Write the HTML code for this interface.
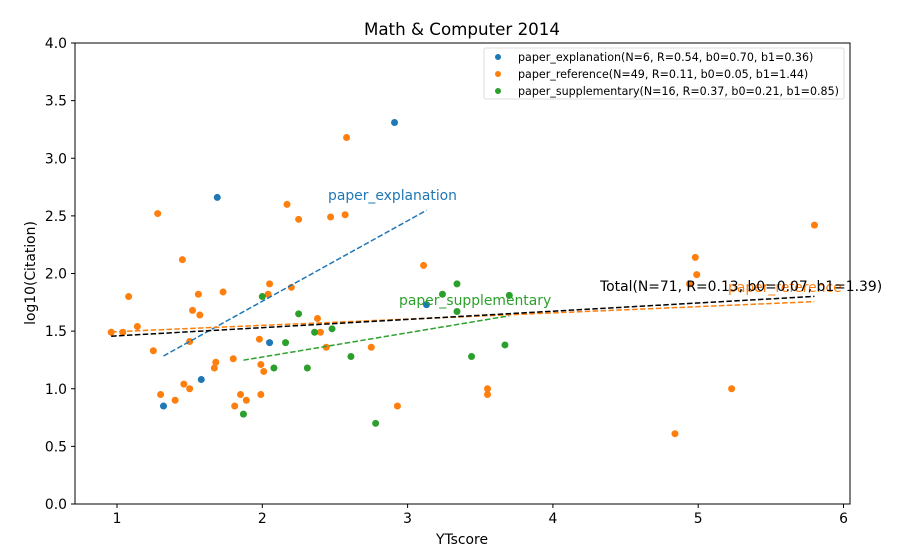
<!DOCTYPE html>
<html><head><meta charset="utf-8"><style>
body{margin:0;background:#fff;}
svg{display:block;font-family:"DejaVu Sans","Liberation Sans",sans-serif;}
</style></head><body>
<svg id="chart" width="900" height="552" xmlns="http://www.w3.org/2000/svg">
<rect width="900" height="552" fill="#fff"/>
<text x="462" y="35" text-anchor="middle" font-size="16.7">Math &amp; Computer 2014</text>
<g id="axes"></g>
<g id="marks"></g>
<rect x="75" y="43" width="775" height="461" fill="none" stroke="#000" stroke-width="1"/>
<text x="462" y="544" text-anchor="middle" font-size="13.9">YTscore</text>
<text transform="translate(35,273) rotate(-90)" text-anchor="middle" font-size="13.9">log10(Citation)</text>
<g>
<rect x="484" y="48" width="360" height="51" rx="2" fill="#fff" stroke="#ddd"/>
<circle cx="498" cy="57" r="3" fill="#1f77b4"/>
<text x="518" y="61" font-size="11.1">paper_explanation(N=6, R=0.54, b0=0.70, b1=0.36)</text>
<circle cx="498" cy="74" r="3" fill="#ff7f0e"/>
<text x="518" y="78" font-size="11.1">paper_reference(N=49, R=0.11, b0=0.05, b1=1.44)</text>
<circle cx="498" cy="91" r="3" fill="#2ca02c"/>
<text x="518" y="95" font-size="11.1">paper_supplementary(N=16, R=0.37, b0=0.21, b1=0.85)</text>
</g>
</svg>
<script>
const xTicks=[1,2,3,4,5,6];
const yTicks=[0,0.5,1,1.5,2,2.5,3,3.5,4];
const explX=[1.32,1.69,1.58,2.05,2.91,3.13];
const explY=[0.85,2.66,1.08,1.40,3.31,1.73];
const refX=[0.96,1.04,1.14,1.08,1.28,1.25,1.30,1.40,1.45,1.52,1.56,1.57,1.50,1.46,1.50,1.68,1.67,1.73,1.80,1.85,1.89,1.81,1.99,1.99,2.01,1.98,2.05,2.04,2.17,2.25,2.20,2.38,2.40,2.44,2.47,2.57,2.75,2.58,3.11,2.93,3.55,3.55,4.84,4.98,4.99,5.23,5.80,4.94];
const refY=[1.49,1.49,1.54,1.80,2.52,1.33,0.95,0.90,2.12,1.68,1.82,1.64,1.41,1.04,1.00,1.23,1.18,1.84,1.26,0.95,0.90,0.85,0.95,1.21,1.15,1.43,1.91,1.82,2.60,2.47,1.88,1.61,1.49,1.36,2.49,2.51,1.36,3.18,2.07,0.85,1.00,0.95,0.61,2.14,1.99,1.00,2.42,1.91];
const supX=[1.87,2.00,2.08,2.16,2.25,2.31,2.36,2.48,2.61,2.78,3.24,3.34,3.34,3.44,3.67,3.70];
const supY=[0.78,1.80,1.18,1.40,1.65,1.18,1.49,1.52,1.28,0.70,1.82,1.91,1.67,1.28,1.38,1.81];
const X=v=>117+(v-1)*145.3;
const Y=v=>504-v*115.25;
const NS="http://www.w3.org/2000/svg";
function mk(tag,attrs,parent){const e=document.createElementNS(NS,tag);for(const k in attrs)e.setAttribute(k,attrs[k]);parent.appendChild(e);return e;}
const axes=document.getElementById('axes'),marks=document.getElementById('marks');
xTicks.forEach(t=>{
  mk('line',{x1:X(t),x2:X(t),y1:504,y2:508,stroke:'#000'},axes);
  const tx=mk('text',{x:X(t),y:523,'text-anchor':'middle','font-size':13.9},axes);
  tx.textContent=t;
  
  
});
yTicks.forEach(t=>{
  mk('line',{x1:71,x2:75,y1:Y(t),y2:Y(t),stroke:'#000'},axes);
  const tx=mk('text',{x:67,y:Y(t)+5,'text-anchor':'end','font-size':13.9},axes);
  tx.textContent=t.toFixed(1);
  
  
});
function fit(xs,ys){const n=xs.length;let mx=0,my=0;for(let i=0;i<n;i++){mx+=xs[i];my+=ys[i];}mx/=n;my/=n;let sxy=0,sxx=0;for(let i=0;i<n;i++){sxy+=(xs[i]-mx)*(ys[i]-my);sxx+=(xs[i]-mx)**2;}const b=sxy/sxx;return {b:b,a:my-b*mx,min:Math.min(...xs),max:Math.max(...xs)};}
function drawLine(xs,ys,color,name){const f=fit(xs,ys);const l=mk('line',{x1:X(f.min),y1:Y(f.a+f.b*f.min),x2:X(f.max),y2:Y(f.a+f.b*f.max),stroke:color,'stroke-width':1.5,'stroke-dasharray':'5.5,2.4'},marks);
  
  
  return f;}
function drawPts(xs,ys,color,name){xs.forEach((x,i)=>{const c=mk('circle',{cx:X(x),cy:Y(ys[i]),r:3.5,fill:color},marks);
  
  });}
drawPts(explX,explY,'#1f77b4','point-explanation');
drawPts(refX,refY,'#ff7f0e','point-reference');
drawPts(supX,supY,'#2ca02c','point-supplementary');
drawLine(explX,explY,'#1f77b4','fit-line-explanation');
drawLine(refX,refY,'#ff7f0e','fit-line-reference');
drawLine(supX,supY,'#2ca02c','fit-line-supplementary');
drawLine(explX.concat(refX,supX),explY.concat(refY,supY),'#000','fit-line-total');
function lbl(x,y,txt,color,name){const t=mk('text',{x:x,y:y,'font-size':13.9,fill:color},marks);t.textContent=txt;
  
  }
lbl(328,200,'paper_explanation','#1f77b4','label-explanation');
lbl(399,305,'paper_supplementary','#2ca02c','label-supplementary');
lbl(728,292,'paper_reference','#ff7f0e','label-reference');
lbl(600,291,'Total(N=71, R=0.13, b0=0.07, b1=1.39)','#000','label-total');
</script>
</body></html>
